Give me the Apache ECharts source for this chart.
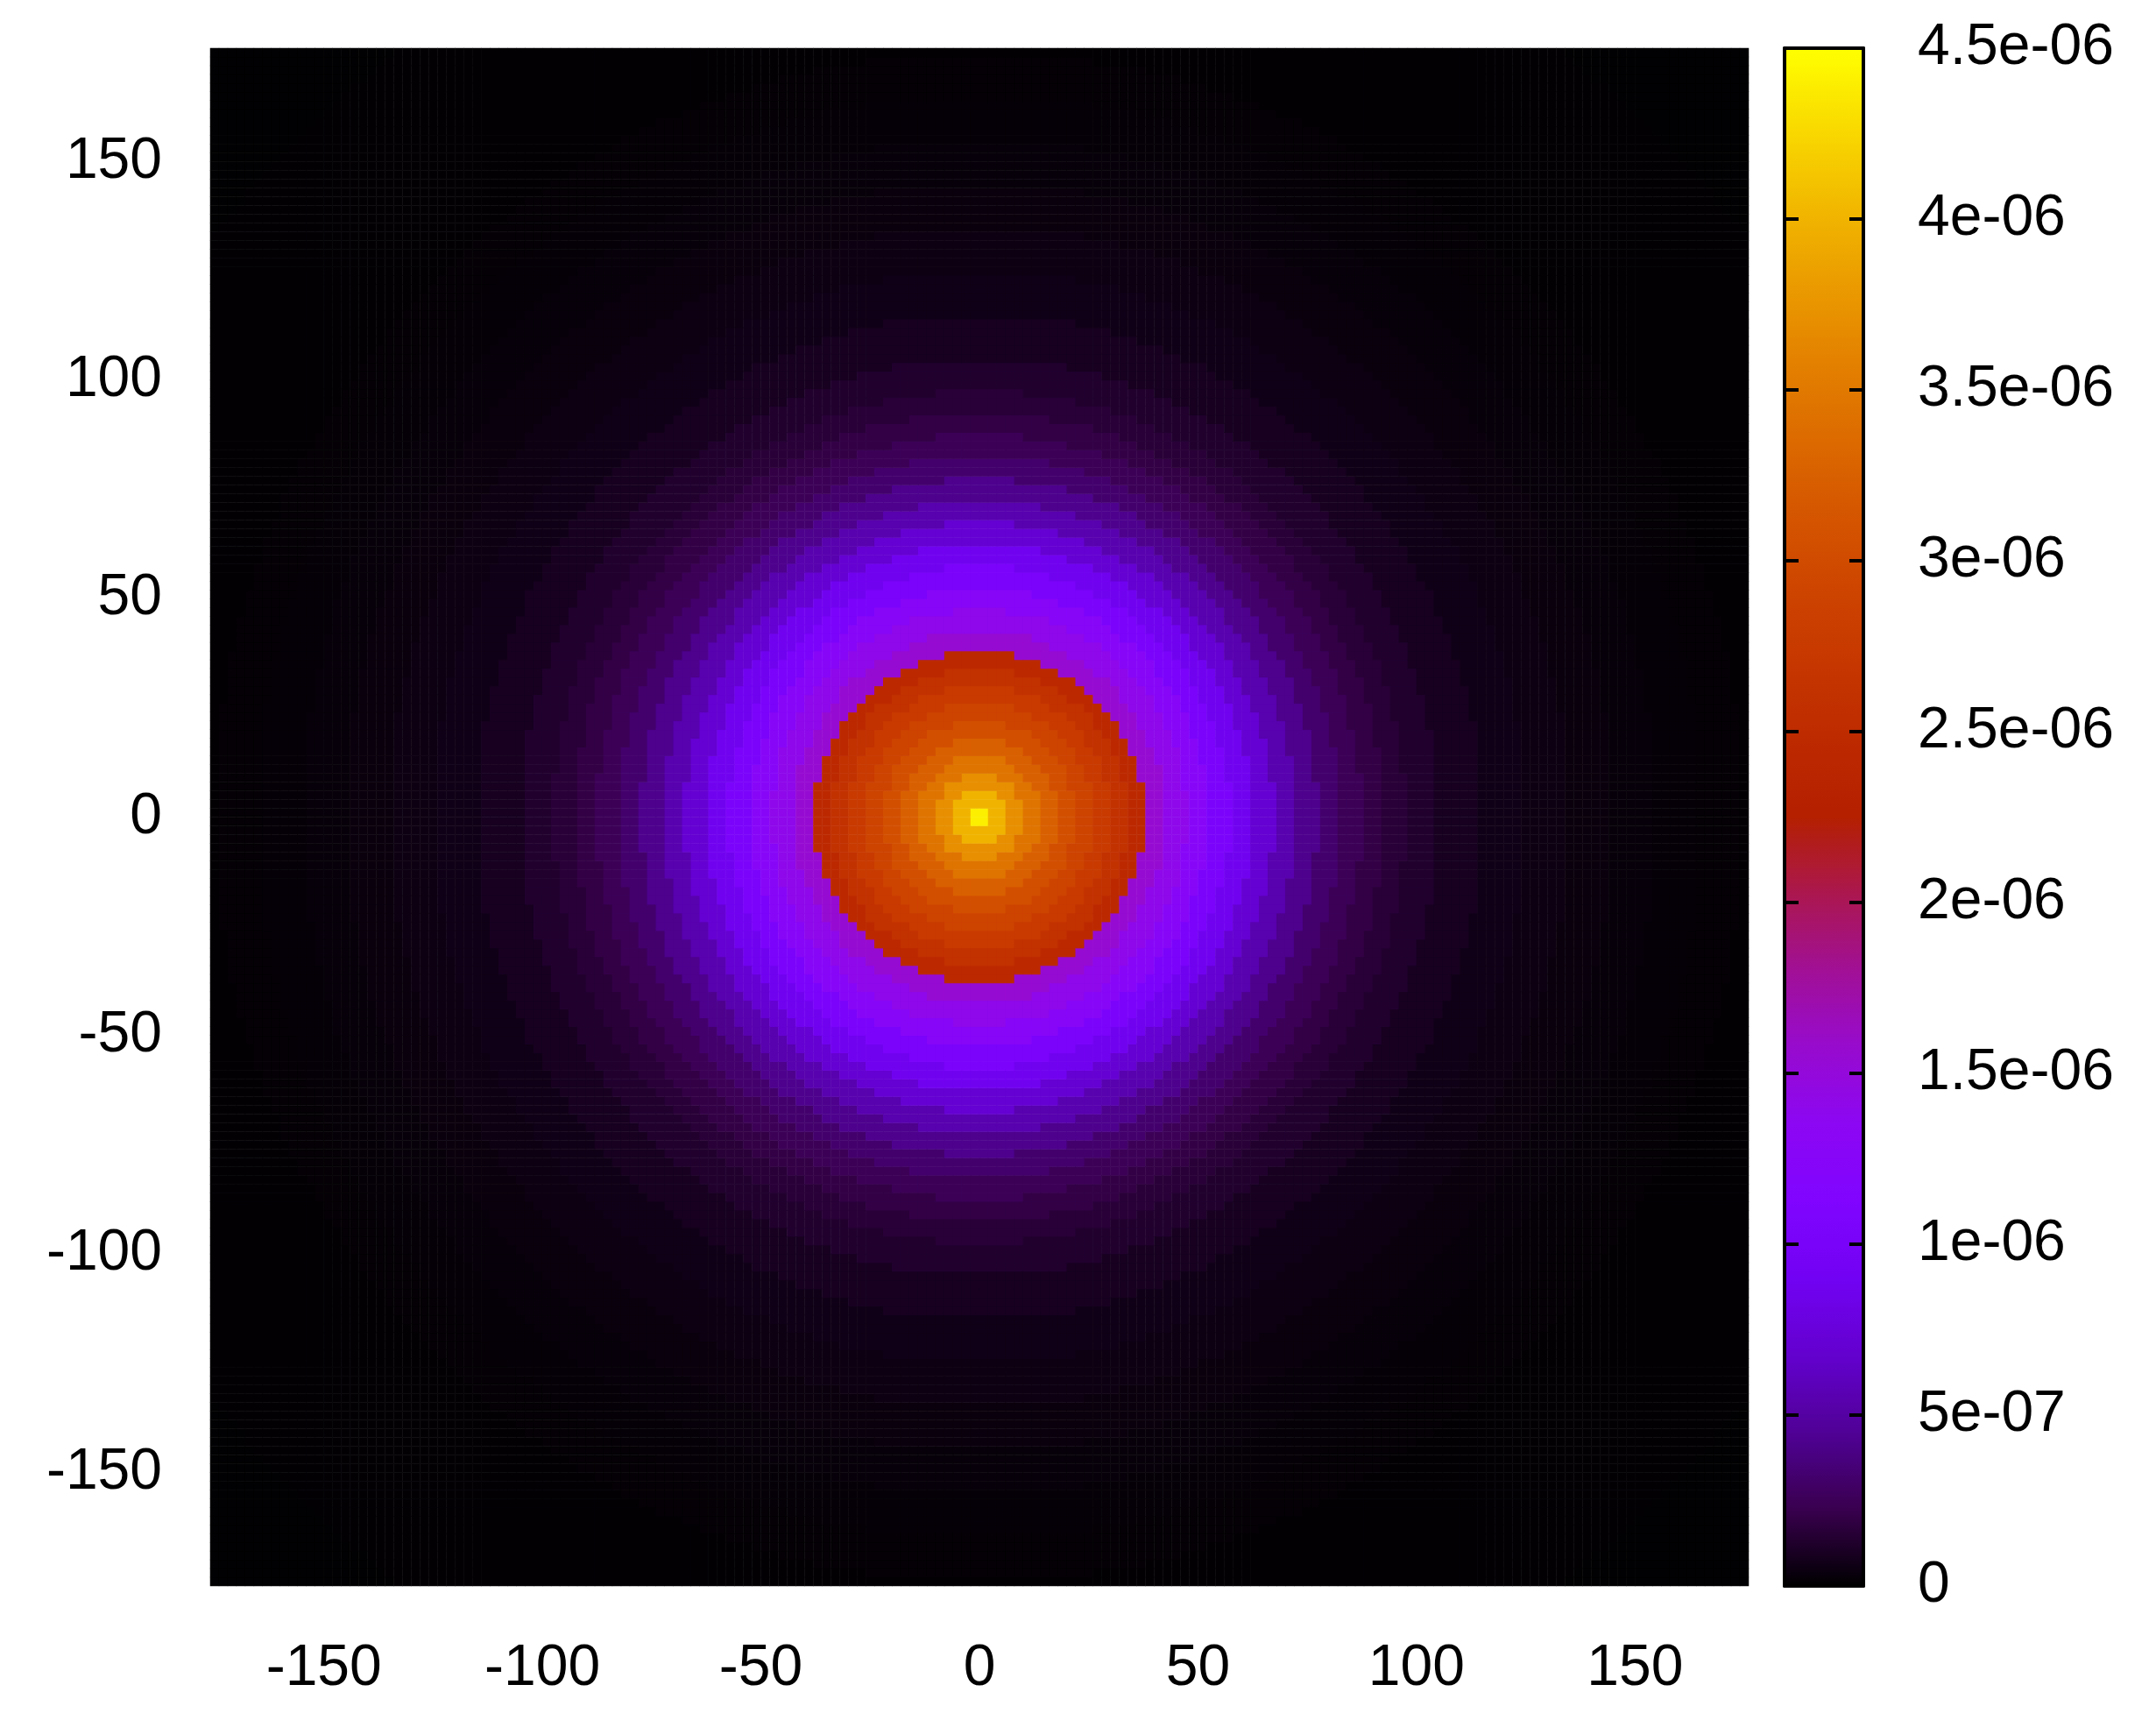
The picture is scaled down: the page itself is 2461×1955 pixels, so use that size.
<!DOCTYPE html>
<html><head><meta charset="utf-8">
<script src="https://cdn.jsdelivr.net/npm/echarts@6/dist/echarts.min.js"></script>
<style>html,body{margin:0;background:#fff}#main{width:2461px;height:1955px}</style>
</head><body><div id="main"></div>
<script>
// radial intensity profile (radius in axis units -> value)
var profileR = [0, 4, 8, 12, 16, 20, 24, 28, 32, 36, 40, 45, 50, 55, 60, 65, 70, 75, 80, 85, 90, 95, 100, 110, 120, 130, 140, 150, 160, 170, 180, 260];
var profileV = [4.4e-6, 4.0e-6, 3.7e-6, 3.45e-6, 3.25e-6, 3.05e-6, 2.9e-6, 2.75e-6, 2.6e-6, 2.45e-6, 1.55e-6, 1.4e-6, 1.25e-6, 1.05e-6, 0.88e-6, 0.7e-6, 0.55e-6, 0.42e-6, 0.32e-6, 0.25e-6, 0.2e-6, 0.16e-6, 0.13e-6, 0.09e-6, 0.065e-6, 0.05e-6, 0.038e-6, 0.028e-6, 0.02e-6, 0.015e-6, 0.01e-6, 0.005e-6];
var axisTicks = [-150, -100, -50, 0, 50, 100, 150];
var cbTicks = [0, 5e-7, 1e-6, 1.5e-6, 2e-6, 2.5e-6, 3e-6, 3.5e-6, 4e-6, 4.5e-6];
var cbLabels = ['0', '5e-07', '1e-06', '1.5e-06', '2e-06', '2.5e-06', '3e-06', '3.5e-06', '4e-06', '4.5e-06'];
var palette = ['#000000','#39004f','#500196','#6301ce','#7202f3','#8004ff','#8c07f3','#970bce','#a11096','#ab174f','#b42000','#bd2a00','#c63700','#ce4500','#d55700','#dd6c00','#e48300','#eb9d00','#f2ba00','#f9db00','#ffff00'];

var step = 2, half = 176;
var cells = [];
for (var c = -half + step / 2; c < half; c += step) cells.push(c);
function lookup(r) {
  var best = 0;
  for (var i = 0; i < profileR.length; i++) if (Math.abs(profileR[i] - r) < Math.abs(profileR[best] - r)) best = i;
  return profileV[best];
}
var data = [];
for (var i = 0; i < cells.length; i++)
  for (var j = 0; j < cells.length; j++)
    data.push([i, j, lookup(Math.sqrt(cells[i] * cells[i] + cells[j] * cells[j]))]);

var font = {fontFamily: 'Liberation Sans', fontSize: 66, color: '#000'};
var L = 240, R = 2461 - 1996, T = 55, B = 1955 - 1810;
var cbL = 2037, cbR = 2461 - 2127;

var chart = echarts.init(document.getElementById('main'));
chart.setOption({
  animation: false,
  grid: [
    {left: L, right: R, top: T, bottom: B},
    {left: L, right: R, top: T, bottom: B},
    {left: cbL, right: cbR, top: T, bottom: B}
  ],
  xAxis: [
    {gridIndex: 0, type: 'category', data: cells, show: false},
    {gridIndex: 1, type: 'value', min: -half, max: half, position: 'bottom',
     axisLine: {show: false}, axisTick: {show: false}, splitLine: {show: false},
     axisLabel: Object.assign({margin: 62, customValues: axisTicks}, font)},
    {gridIndex: 2, type: 'value', min: 0, max: 1, position: 'bottom', z: 10,
     axisLine: {show: true, onZero: false, lineStyle: {color: '#000', width: 4}}, axisTick: {show: false}, axisLabel: {show: false}, splitLine: {show: false}},
    {gridIndex: 2, type: 'value', min: 0, max: 1, position: 'top', z: 10,
     axisLine: {show: true, onZero: false, lineStyle: {color: '#000', width: 4}}, axisTick: {show: false}, axisLabel: {show: false}, splitLine: {show: false}}
  ],
  yAxis: [
    {gridIndex: 0, type: 'category', data: cells, show: false},
    {gridIndex: 1, type: 'value', min: -half, max: half, position: 'left',
     axisLine: {show: false}, axisTick: {show: false}, splitLine: {show: false},
     axisLabel: Object.assign({margin: 55, customValues: axisTicks}, font)},
    {gridIndex: 2, type: 'value', min: 0, max: 4.5e-6, position: 'right', z: 10,
     axisLine: {show: true, onZero: false, lineStyle: {color: '#000', width: 4}},
     axisTick: {show: true, inside: true, length: 16, customValues: cbTicks, lineStyle: {color: '#000', width: 4}},
     splitLine: {show: false},
     axisLabel: Object.assign({margin: 62, customValues: cbTicks, formatter: function (v) {
       for (var k = 0; k < cbTicks.length; k++) if (Math.abs(cbTicks[k] - v) < 1e-9) return cbLabels[k];
       return '';
     }}, font)},
    {gridIndex: 2, type: 'value', min: 0, max: 4.5e-6, position: 'left', z: 10,
     axisLine: {show: true, onZero: false, lineStyle: {color: '#000', width: 4}},
     axisTick: {show: true, inside: true, length: 16, customValues: cbTicks, lineStyle: {color: '#000', width: 4}},
     axisLabel: {show: false}, splitLine: {show: false}}
  ],
  visualMap: {
    type: 'continuous', min: 0, max: 4.5e-6, calculable: false, seriesIndex: 0,
    left: cbL, top: T, itemWidth: 2127 - cbL, itemHeight: 1810 - T,
    padding: 0, text: null, showLabel: false, inRange: {color: palette}
  },
  series: [{
    type: 'heatmap', xAxisIndex: 0, yAxisIndex: 0, data: data,
    progressive: 0, itemStyle: {borderWidth: 0}
  }]
});
</script></body></html>
